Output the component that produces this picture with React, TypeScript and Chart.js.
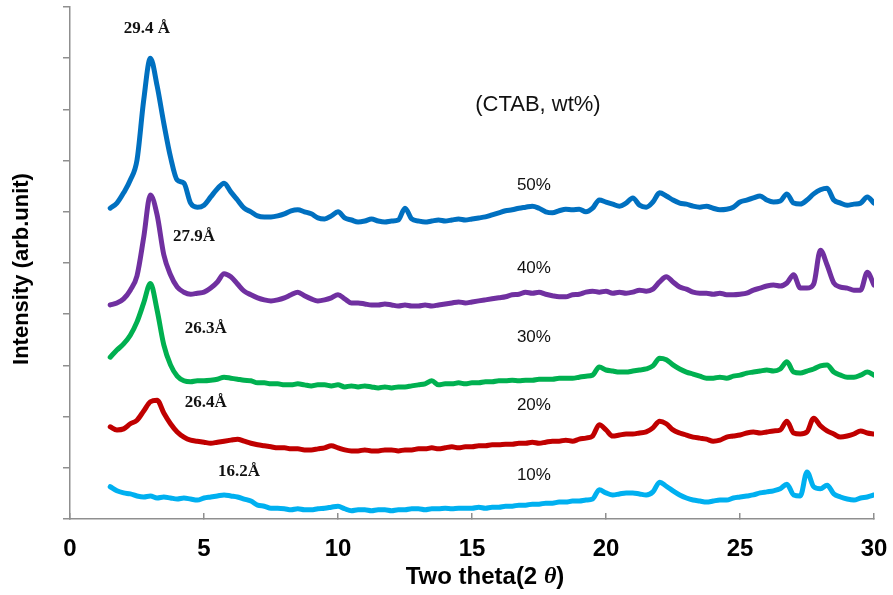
import React, { useEffect, useRef } from "react";
import { Chart, registerables } from "chart.js";

Chart.register(...registerables);

// 2θ grid (degrees)
const twoTheta: number[] = [
  1.5, 1.75,
  2, 2.25, 2.5, 2.75, 3, 3.25, 3.5, 3.75, 4, 4.25, 4.5, 4.75,
  5, 5.25, 5.5, 5.75, 6, 6.25, 6.5, 6.75, 7, 7.25, 7.5, 7.75,
  8, 8.25, 8.5, 8.75, 9, 9.25, 9.5, 9.75, 10, 10.25, 10.5, 10.75,
  11, 11.25, 11.5, 11.75, 12, 12.25, 12.5, 12.75, 13, 13.25, 13.5, 13.75,
  14, 14.25, 14.5, 14.75, 15, 15.25, 15.5, 15.75, 16, 16.25, 16.5, 16.75,
  17, 17.25, 17.5, 17.75, 18, 18.25, 18.5, 18.75, 19, 19.25, 19.5, 19.75,
  20, 20.25, 20.5, 20.75, 21, 21.25, 21.5, 21.75, 22, 22.25, 22.5, 22.75,
  23, 23.25, 23.5, 23.75, 24, 24.25, 24.5, 24.75, 25, 25.25, 25.5, 25.75,
  26, 26.25, 26.5, 26.75, 27, 27.25, 27.5, 27.75, 28, 28.25, 28.5, 28.75,
  29, 29.25, 29.5, 29.75, 30,
];

// CTAB 50 wt%
const ctab50: number[] = [
  6.07, 6.17,
  6.37, 6.62, 7.01, 8.18, 9.0, 8.46, 7.73, 7.07, 6.62, 6.56, 6.17, 6.09,
  6.13, 6.29, 6.45, 6.56, 6.39, 6.23, 6.07, 6.0, 5.92, 5.9, 5.9, 5.92,
  5.96, 6.02, 6.04, 6.0, 5.96, 5.88, 5.86, 5.92, 6.0, 5.88, 5.84, 5.8,
  5.82, 5.86, 5.82, 5.8, 5.82, 5.84, 6.07, 5.86, 5.82, 5.8, 5.82, 5.84,
  5.82, 5.84, 5.86, 5.84, 5.86, 5.88, 5.9, 5.94, 5.98, 6.02, 6.04, 6.07,
  6.09, 6.11, 6.07, 6.0, 5.98, 6.02, 6.05, 6.04, 6.05, 6.0, 6.07, 6.23,
  6.19, 6.15, 6.11, 6.17, 6.27, 6.13, 6.09, 6.19, 6.37, 6.31, 6.23, 6.17,
  6.15, 6.11, 6.09, 6.11, 6.07, 6.04, 6.05, 6.09, 6.19, 6.23, 6.27, 6.31,
  6.23, 6.19, 6.21, 6.35, 6.17, 6.15, 6.23, 6.35, 6.43, 6.46, 6.23, 6.17,
  6.13, 6.15, 6.17, 6.29, 6.17,
];

// CTAB 40 wt%
const ctab40: number[] = [
  4.18, 4.22,
  4.3, 4.47, 4.75, 5.5, 6.33, 5.94, 5.16, 4.77, 4.53, 4.43, 4.39, 4.41,
  4.43, 4.51, 4.63, 4.79, 4.73, 4.59, 4.45, 4.38, 4.32, 4.28, 4.26, 4.28,
  4.32, 4.38, 4.43, 4.36, 4.3, 4.26, 4.28, 4.32, 4.38, 4.3, 4.22, 4.22,
  4.2, 4.18, 4.18, 4.2, 4.18, 4.16, 4.18, 4.16, 4.16, 4.18, 4.16, 4.18,
  4.2, 4.22, 4.24, 4.22, 4.24, 4.26, 4.28, 4.3, 4.32, 4.34, 4.38, 4.39,
  4.43, 4.41, 4.43, 4.39, 4.36, 4.34, 4.34, 4.38, 4.39, 4.43, 4.45, 4.43,
  4.45, 4.41, 4.43, 4.41, 4.43, 4.47, 4.45, 4.49, 4.63, 4.73, 4.63, 4.53,
  4.49, 4.43, 4.41, 4.41, 4.39, 4.41, 4.38, 4.38, 4.39, 4.41, 4.47, 4.51,
  4.55, 4.57, 4.55, 4.61, 4.77, 4.51, 4.51, 4.59, 5.25, 4.96, 4.61, 4.53,
  4.51, 4.47, 4.47, 4.82, 4.57,
];

// CTAB 30 wt%
const ctab30: number[] = [
  3.16, 3.3,
  3.42, 3.59, 3.85, 4.22, 4.6, 4.08, 3.4, 3.01, 2.79, 2.7, 2.68, 2.7,
  2.7, 2.71, 2.73, 2.77, 2.75, 2.73, 2.71, 2.7, 2.66, 2.66, 2.64, 2.64,
  2.62, 2.62, 2.64, 2.62, 2.6, 2.62, 2.62, 2.6, 2.62, 2.58, 2.6, 2.58,
  2.6, 2.58, 2.56, 2.58, 2.56, 2.58, 2.58, 2.6, 2.62, 2.64, 2.7, 2.62,
  2.64, 2.64, 2.66, 2.64, 2.66, 2.66, 2.68, 2.68, 2.7, 2.7, 2.71, 2.7,
  2.71, 2.71, 2.73, 2.73, 2.73, 2.75, 2.75, 2.75, 2.77, 2.79, 2.81, 2.97,
  2.91, 2.89, 2.87, 2.87, 2.89, 2.91, 2.93, 2.99, 3.14, 3.11, 3.01, 2.93,
  2.87, 2.83, 2.79, 2.75, 2.75, 2.77, 2.75, 2.79, 2.81, 2.85, 2.87, 2.89,
  2.91, 2.89, 2.93, 3.07, 2.87, 2.85, 2.89, 2.93, 2.99, 3.01, 2.87, 2.81,
  2.77, 2.77, 2.81, 2.87, 2.81,
];

// CTAB 20 wt%
const ctab20: number[] = [
  1.8, 1.74,
  1.76, 1.86, 1.93, 2.11, 2.29, 2.32, 2.07, 1.86, 1.7, 1.6, 1.54, 1.52,
  1.5, 1.48, 1.5, 1.52, 1.54, 1.56, 1.52, 1.48, 1.45, 1.43, 1.41, 1.39,
  1.39, 1.37, 1.37, 1.35, 1.35, 1.37, 1.39, 1.43, 1.39, 1.35, 1.33, 1.33,
  1.35, 1.33, 1.33, 1.35, 1.35, 1.33, 1.35, 1.35, 1.37, 1.37, 1.39, 1.37,
  1.39, 1.41, 1.39, 1.41, 1.41, 1.43, 1.43, 1.45, 1.45, 1.46, 1.46, 1.48,
  1.48, 1.5, 1.48, 1.5, 1.52, 1.52, 1.54, 1.52, 1.56, 1.58, 1.62, 1.84,
  1.74, 1.62, 1.64, 1.66, 1.66, 1.68, 1.7, 1.78, 1.91, 1.86, 1.74, 1.68,
  1.64, 1.6, 1.58, 1.56, 1.52, 1.54, 1.6, 1.62, 1.64, 1.68, 1.7, 1.68,
  1.7, 1.72, 1.74, 1.91, 1.68, 1.66, 1.7, 1.97, 1.82, 1.72, 1.66, 1.6,
  1.62, 1.66, 1.72, 1.68, 1.66,
];

// CTAB 10 wt%
const ctab10: number[] = [
  0.63, 0.55,
  0.51, 0.49, 0.45, 0.43, 0.45, 0.41, 0.43, 0.41, 0.39, 0.41, 0.39, 0.37,
  0.41, 0.43, 0.45, 0.47, 0.45, 0.43, 0.39, 0.35, 0.27, 0.25, 0.21, 0.21,
  0.2, 0.18, 0.2, 0.18, 0.18, 0.2, 0.21, 0.23, 0.25, 0.2, 0.16, 0.18,
  0.18, 0.16, 0.18, 0.18, 0.16, 0.18, 0.18, 0.2, 0.2, 0.18, 0.2, 0.2,
  0.21, 0.2, 0.21, 0.21, 0.21, 0.23, 0.21, 0.23, 0.23, 0.25, 0.25, 0.27,
  0.27, 0.29, 0.29, 0.31, 0.31, 0.33, 0.33, 0.35, 0.35, 0.37, 0.39, 0.57,
  0.51, 0.47, 0.49, 0.51, 0.51, 0.49, 0.47, 0.53, 0.72, 0.64, 0.55, 0.47,
  0.41, 0.37, 0.35, 0.33, 0.35, 0.37, 0.37, 0.41, 0.43, 0.45, 0.47, 0.51,
  0.53, 0.55, 0.59, 0.68, 0.47, 0.45, 0.92, 0.63, 0.59, 0.66, 0.49, 0.43,
  0.39, 0.37, 0.41, 0.43, 0.47,
];

const seriesNames: string[] = ["50%", "40%", "30%", "20%", "10%"];
const seriesColors: string[] = ["#0070C0", "#7030A0", "#00B050", "#C00000", "#00B0F0"];

// d-spacing annotations (data coordinates)
const spacingLabels: string[] = ["29.4 Å", "27.9Å", "26.3Å", "26.4Å", "16.2Å"];
const spacingX: number[] = [2.87, 4.63, 5.07, 5.07, 6.31];
const spacingY: number[] = [9.57, 5.51, 3.71, 2.27, 0.92];

// concentration labels (data coordinates)
const percentX: number[] = [17.31, 17.31, 17.31, 17.31, 17.31];
const percentY: number[] = [6.52, 4.9, 3.55, 2.23, 0.86];

const legendTitle = "(CTAB, wt%)";
const legendTitleX = 17.46;
const legendTitleY = 8.09;

const xTicks: number[] = [0, 5, 10, 15, 20, 25, 30];
const xTitleMain = "Two theta(2 ";
const xTitleSymbol = "θ";
const xTitleEnd = ")";
const yTitle = "Intensity (arb.unit)";

const AXIS_GRAY = "#8f8f8f";

const textPlugin = {
  id: "xrdText",
  afterDatasetsDraw(chart: any) {
    const { ctx, chartArea, scales } = chart;
    const xs = scales.x;
    const ys = scales.y;
    ctx.save();
    ctx.fillStyle = "#111";
    ctx.textAlign = "center";
    ctx.textBaseline = "middle";

    ctx.font = "bold 17px 'Liberation Serif', 'Times New Roman', serif";
    spacingLabels.forEach((t, i) => {
      ctx.fillText(t, xs.getPixelForValue(spacingX[i]), ys.getPixelForValue(spacingY[i]));
    });

    ctx.font = "17px 'Liberation Sans', Arial, sans-serif";
    seriesNames.forEach((t, i) => {
      ctx.fillText(t, xs.getPixelForValue(percentX[i]), ys.getPixelForValue(percentY[i]));
    });

    ctx.font = "22px 'Liberation Sans', Arial, sans-serif";
    ctx.fillText(legendTitle, xs.getPixelForValue(legendTitleX), ys.getPixelForValue(legendTitleY));

    // x axis title
    ctx.fillStyle = "#000";
    const boldFont = "bold 24px 'Liberation Sans', Arial, sans-serif";
    const italicFont = "italic bold 24px 'Liberation Serif', 'Times New Roman', serif";
    ctx.font = boldFont;
    const w1 = ctx.measureText(xTitleMain).width;
    const w3 = ctx.measureText(xTitleEnd).width;
    ctx.font = italicFont;
    const w2 = ctx.measureText(xTitleSymbol).width;
    const total = w1 + w2 + w3;
    const cx = (chartArea.left + chartArea.right) / 2 + 13;
    const ty = chartArea.bottom + 58;
    let sx = cx - total / 2;
    ctx.textAlign = "left";
    ctx.font = boldFont;
    ctx.fillText(xTitleMain, sx, ty);
    sx += w1;
    ctx.font = italicFont;
    ctx.fillText(xTitleSymbol, sx, ty);
    sx += w2;
    ctx.font = boldFont;
    ctx.fillText(xTitleEnd, sx, ty);

    // y axis title
    ctx.save();
    ctx.translate(chartArea.left - 48, (chartArea.top + chartArea.bottom) / 2 + 6);
    ctx.rotate(-Math.PI / 2);
    ctx.textAlign = "center";
    ctx.font = "bold 22px 'Liberation Sans', Arial, sans-serif";
    ctx.fillText(yTitle, 0, 0);
    ctx.restore();

    ctx.restore();
  },
};

export default function App() {
  const canvasRef = useRef<HTMLCanvasElement | null>(null);

  useEffect(() => {
    const series = [ctab50, ctab40, ctab30, ctab20, ctab10];
    const datasets = series.map((vals, i) => ({
      label: seriesNames[i],
      data: twoTheta.map((t, j) => ({ x: t, y: vals[j] })),
      borderColor: seriesColors[i],
      backgroundColor: seriesColors[i],
      borderWidth: 5,
      pointRadius: 0,
      cubicInterpolationMode: "monotone" as const,
      borderJoinStyle: "round" as const,
      borderCapStyle: "round" as const,
      fill: false,
    }));

    const chart = new Chart(canvasRef.current as HTMLCanvasElement, {
      type: "line",
      data: { datasets },
      options: {
        animation: false,
        responsive: false,
        maintainAspectRatio: false,
        layout: { padding: { top: 7, right: 19, left: 0, bottom: 0 } },
        plugins: { legend: { display: false }, tooltip: { enabled: false } },
        scales: {
          x: {
            type: "linear",
            min: 0,
            max: 30,
            afterBuildTicks: (scale: any) => {
              scale.ticks = xTicks.map((v) => ({ value: v }));
            },
            afterFit: (scale: any) => {
              scale.height = 76;
              scale.paddingLeft = 0;
              scale.paddingRight = 0;
            },
            border: { display: true, color: AXIS_GRAY, width: 1.5 },
            grid: {
              drawOnChartArea: false,
              drawTicks: true,
              tickLength: -6,
              color: AXIS_GRAY,
              lineWidth: 1.5,
            },
            ticks: {
              padding: 22,
              color: "#000",
              maxRotation: 0,
              font: { family: "'Liberation Sans', Arial, sans-serif", size: 24, weight: "bold" },
            },
          },
          y: {
            type: "linear",
            min: 0,
            max: 10,
            afterFit: (scale: any) => {
              scale.width = 70;
              scale.paddingTop = 0;
              scale.paddingBottom = 0;
            },
            border: { display: true, color: AXIS_GRAY, width: 1.5 },
            grid: {
              drawOnChartArea: false,
              drawTicks: true,
              tickLength: 7,
              color: AXIS_GRAY,
              lineWidth: 1.5,
            },
            ticks: { display: false, stepSize: 1 },
          },
        },
      },
      plugins: [textPlugin],
    });

    return () => chart.destroy();
  }, []);

  return (
    <div style={{ position: "fixed", left: 0, top: 0, width: 893, height: 595, background: "#fff" }}>
      <canvas ref={canvasRef} width={893} height={595} style={{ display: "block", width: 893, height: 595 }} />
    </div>
  );
}
